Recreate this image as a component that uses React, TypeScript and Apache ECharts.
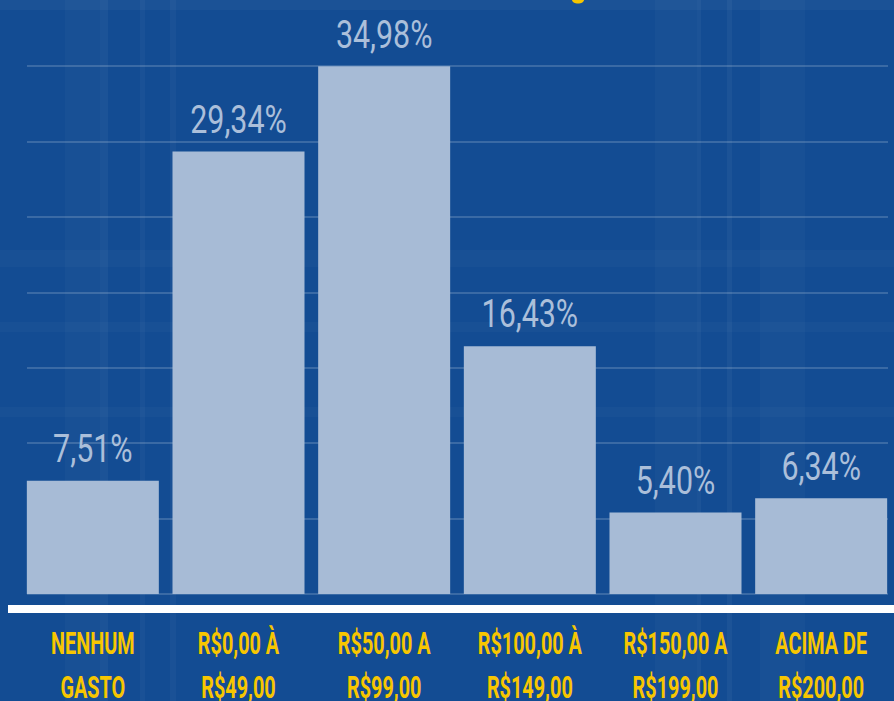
import React, { useEffect, useRef } from "react";
import * as echarts from "echarts";

const categories = [
  "NENHUM\nGASTO",
  "R$0,00 À\nR$49,00",
  "R$50,00 A\nR$99,00",
  "R$100,00 À\nR$149,00",
  "R$150,00 A\nR$199,00",
  "ACIMA DE\nR$200,00",
];
const values = [7.51, 29.34, 34.98, 16.43, 5.4, 6.34];
const yTicks = [0, 5, 10, 15, 20, 25, 30, 35];

const fmt = (v: number) => v.toFixed(2).replace(".", ",") + "%";

export default function App() {
  const ref = useRef<HTMLDivElement>(null);
  useEffect(() => {
    if (!ref.current) return;
    const chart = echarts.init(ref.current, undefined, { renderer: "svg" });
    const yMax = yTicks[yTicks.length - 1];
    const yInterval = yTicks[1] - yTicks[0];
    const stripes = [
      { x: 65, w: 35, o: 0.025 },
      { x: 100, w: 8, o: 0.04 },
      { x: 140, w: 5, o: 0.03 },
      { x: 170, w: 6, o: 0.03 },
      { x: 655, w: 42, o: 0.025 },
      { x: 697, w: 4, o: 0.04 },
      { x: 727, w: 5, o: 0.04 },
      { x: 760, w: 45, o: 0.025 },
    ];
    const bands = [
      { y: 0, h: 10, o: 0.035 },
      { y: 250, h: 17, o: 0.025 },
      { y: 322, h: 10, o: 0.025 },
      { y: 407, h: 10, o: 0.025 },
    ];
    chart.setOption({
      animation: false,
      backgroundColor: "#134c93",
      graphic: [
        ...stripes.map((s) => ({
          type: "rect",
          z: -10,
          silent: true,
          shape: { x: s.x, y: 0, width: s.w, height: 701 },
          style: { fill: `rgba(255,255,255,${s.o})` },
        })),
        ...bands.map((b) => ({
          type: "rect",
          z: -10,
          silent: true,
          shape: { x: 0, y: b.y, width: 894, height: b.h },
          style: { fill: `rgba(255,255,255,${b.o})` },
        })),
        {
          type: "rect",
          z: 10,
          shape: { x: 8, y: 605, width: 890, height: 8 },
          style: { fill: "#ffffff" },
        },
        {
          type: "ellipse",
          z: 10,
          shape: { cx: 578, cy: 0, rx: 6, ry: 3.5 },
          style: { fill: "#f7c600" },
        },
      ],
      grid: [
        { left: 27, right: 6, top: 66, bottom: 107 },
        { left: 20, width: 875, top: 66, bottom: 107 },
      ],
      xAxis: [
        { type: "value", gridIndex: 0, show: false, min: 0, max: 1 },
        {
          type: "category",
          gridIndex: 1,
          data: categories,
          axisLine: { show: false },
          axisTick: { show: false },
          axisLabel: { show: false },
        },
      ],
      yAxis: [
        {
          type: "value",
          gridIndex: 0,
          min: 0,
          max: yMax,
          interval: yInterval,
          axisLabel: { show: false },
          axisLine: { show: false },
          axisTick: { show: false },
          splitLine: { lineStyle: { color: "rgba(255,255,255,0.17)", width: 2 } },
        },
        {
          type: "value",
          gridIndex: 1,
          min: 0,
          max: yMax,
          interval: yInterval,
          show: false,
          splitLine: { show: false },
        },
      ],
      series: [
        {
          type: "bar",
          xAxisIndex: 1,
          yAxisIndex: 1,
          data: values,
          barWidth: 132,
          itemStyle: { color: "#a7bbd6" },
        },
        {
          type: "custom",
          xAxisIndex: 1,
          yAxisIndex: 1,
          clip: false,
          z: 5,
          data: values.map((v, i) => [i, v]),
          renderItem: (params: any, api: any) => {
            const i = api.value(0);
            const v = api.value(1);
            const top = api.coord([i, v]);
            const base = api.coord([i, 0]);
            return {
              type: "group",
              children: [
                {
                  type: "text",
                  x: top[0],
                  y: top[1] - 13,
                  scaleX: 0.8,
                  style: {
                    text: fmt(v),
                    fill: "#abbfda",
                    font: '400 38px Roboto, "Noto Sans", sans-serif',
                    align: "center",
                    verticalAlign: "bottom",
                  },
                },
                {
                  type: "text",
                  x: base[0],
                  y: base[1] + 27,
                  scaleX: 0.64,
                  style: {
                    text: categories[i],
                    fill: "#f7c600",
                    font: 'bold 31px Roboto, "Noto Sans", sans-serif',
                    lineHeight: 44,
                    align: "center",
                    verticalAlign: "top",
                  },
                },
              ],
            };
          },
        },
      ],
    });
    return () => chart.dispose();
  }, []);
  return (
    <div
      ref={ref}
      style={{ position: "fixed", left: 0, top: 0, width: 894, height: 701 }}
    />
  );
}
